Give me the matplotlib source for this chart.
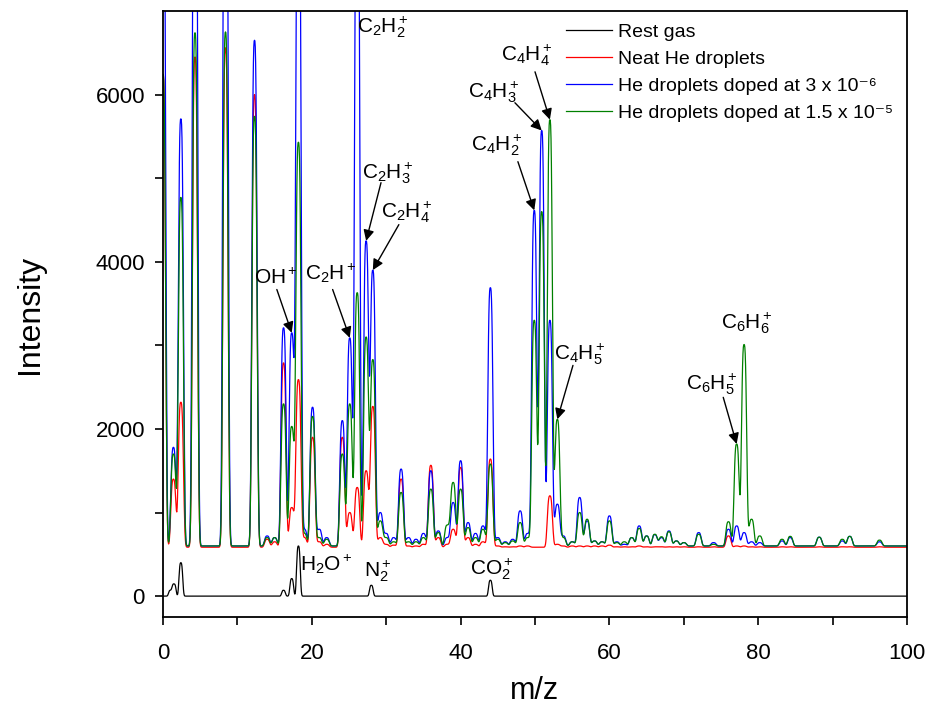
import numpy as np
import matplotlib
matplotlib.use("Agg")
import matplotlib.pyplot as plt

plt.rcParams["font.family"] = ["Liberation Sans", "DejaVu Sans"]
plt.rcParams["mathtext.fontset"] = "custom"
plt.rcParams["mathtext.rm"] = "Liberation Sans"
plt.rcParams["mathtext.it"] = "Liberation Sans"

# peak positions (m/z) and peak tops
peak_mz = [0.0, 1.4, 2.4, 4.3, 8.4, 12.3, 14.0, 15.0, 16.2, 17.3, 18.2, 19.0,
           20.1, 21.0, 22.0, 24.1, 25.1, 26.1, 27.3, 28.2, 29.2, 30.0, 31.0, 32.0,
           33.0, 34.0, 35.0, 36.0, 37.0, 38.2, 39.0, 40.0, 41.0, 42.0, 43.0, 44.0,
           45.0, 46.0, 47.0, 48.0, 49.0, 49.9, 50.9, 52.0, 53.0, 53.8, 55.0, 56.0,
           57.0, 58.0, 59.0, 60.0, 61.0, 62.0, 63.0, 64.0, 65.0, 66.1, 67.0, 68.0,
           69.0, 70.0, 72.0, 74.0, 76.0, 77.1, 78.1, 79.1, 80.2, 83.2, 84.3, 88.2,
           91.3, 92.3, 96.3]
neat_top = [6240, 1400, 2320, 6450, 6560, 6000, 680, 650, 2790, 1060, 2590, 700,
            1900, 650, 620, 1900, 1000, 1300, 1500, 2270, 700, 620, 610, 1400,
            600, 600, 620, 1565, 700, 620, 800, 1540, 700, 620, 650, 1640,
            600, 590, 590, 600, 600, 585, 585, 1200, 620, 600, 600, 600,
            600, 600, 600, 610, 590, 590, 590, 600, 590, 590, 590, 590,
            590, 590, 590, 590, 720, 600, 600, 590, 590, 590, 590, 590,
            590, 590, 590]
dop1_top = [9500, 1780, 5710, 11000, 11000, 6650, 720, 700, 3210, 3150, 9500, 800,
            2260, 800, 700, 2100, 3090, 9500, 4250, 3900, 1000, 750, 700, 1520,
            700, 680, 750, 1500, 780, 700, 1120, 1620, 880, 750, 840, 3690,
            700, 650, 680, 1020, 750, 4615, 5570, 3300, 1100, 720, 650, 1180,
            900, 660, 650, 960, 650, 620, 700, 840, 720, 735, 700, 780,
            660, 640, 760, 640, 800, 840, 760, 650, 640, 660, 700, 705,
            660, 715, 650]
dop2_top = [6240, 1700, 4770, 6740, 6750, 5740, 700, 700, 2300, 2030, 5430, 750,
            2150, 700, 680, 1700, 2300, 3630, 3100, 2830, 900, 700, 650, 1240,
            650, 650, 700, 1280, 760, 850, 1360, 1280, 820, 700, 800, 1580,
            680, 640, 660, 880, 700, 3300, 4600, 5700, 2115, 700, 650, 1000,
            920, 660, 650, 900, 640, 650, 700, 810, 720, 740, 710, 770,
            660, 640, 740, 620, 890, 1820, 3010, 920, 720, 680, 715, 705,
            680, 715, 670]

rest_mz = [1.0, 1.5, 2.4, 16.2, 17.3, 18.2, 28.0, 44.0]
rest_top = [70, 145, 400, 70, 210, 600, 130, 190]

series_names = ["Rest gas", "Neat He droplets",
                "He droplets doped at 3 x 10\u207b\u2076",
                "He droplets doped at 1.5 x 10\u207b\u2075"]

neat_base = 585
doped_base = 600

mz = np.arange(0, 100.01, 0.05)


def spectrum(centres, tops, base, w=0.42):
    y = np.full_like(mz, base, dtype=float)
    for c, t in zip(centres, tops):
        h = max(t - base, 0)
        y += h * np.exp(-(np.abs(mz - c) / w) ** 3)
    return y


rest = spectrum(rest_mz, rest_top, 0, w=0.3)
neat = spectrum(peak_mz, neat_top, neat_base)
dop1 = spectrum(peak_mz, dop1_top, doped_base)
dop2 = spectrum(peak_mz, dop2_top, doped_base)

fig = plt.figure(figsize=(9.32, 7.08), dpi=100)
ax = fig.add_axes([0.1749, 0.1285, 0.7983, 0.856])

lw = 0.9
colors = ["black", "#ff0000", "#0000ff", "#008000"]
for y, c, name in zip([rest, neat, dop1, dop2], colors, series_names):
    ax.plot(mz, y, color=c, lw=lw, label=name)

ax.set_xlim(0, 100)
ax.set_ylim(-250, 7000)
ax.set_xticks(np.arange(0, 101, 20))
ax.set_xticks(np.arange(10, 100, 20), minor=True)
ax.set_yticks([0, 2000, 4000, 6000])
ax.set_yticks([1000, 3000, 5000], minor=True)
ax.tick_params(which="both", direction="out", length=6, width=1.2, labelsize=16)
ax.tick_params(axis="x", pad=13)
ax.tick_params(axis="y", pad=7)
for s in ax.spines.values():
    s.set_linewidth(1.3)

ax.set_xlabel("m/z", fontsize=22, labelpad=8)
ax.set_ylabel("Intensity", fontsize=23, labelpad=36)

leg = ax.legend(loc="upper left", bbox_to_anchor=(0.5417, 0.98), frameon=False,
                fontsize=14, borderpad=0, borderaxespad=0, handlelength=2.35,
                handletextpad=0.3, labelspacing=0.48)

# labels: (text, text position, arrow tail, arrow tip)
fs = 15
labels = [
    (r"C$\mathregular{_2}$H$\mathregular{_2^+}$", (29.6, 6800), None, None),
    (r"C$\mathregular{_2}$H$\mathregular{_3^+}$", (30.2, 5060), (29.3, 4946), (27.3, 4250)),
    (r"C$\mathregular{_2}$H$\mathregular{_4^+}$", (32.8, 4590), (31.7, 4444), (28.2, 3900)),
    (r"OH$\mathregular{^+}$", (15.2, 3810), (15.3, 3668), (17.3, 3150)),
    (r"C$\mathregular{_2}$H$\mathregular{^+}$", (22.6, 3860), (22.8, 3668), (25.1, 3090)),
    (r"C$\mathregular{_4}$H$\mathregular{_4^+}$", (48.9, 6475), (50.0, 6272), (52.0, 5700)),
    (r"C$\mathregular{_4}$H$\mathregular{_3^+}$", (44.4, 6033), (47.3, 5902), (50.9, 5570)),
    (r"C$\mathregular{_4}$H$\mathregular{_2^+}$", (44.8, 5400), (47.7, 5197), (49.9, 4615)),
    (r"C$\mathregular{_4}$H$\mathregular{_5^+}$", (56.0, 2900), (55.1, 2760), (53.0, 2115)),
    (r"C$\mathregular{_6}$H$\mathregular{_5^+}$", (73.8, 2530), (75.3, 2378), (77.1, 1820)),
    (r"C$\mathregular{_6}$H$\mathregular{_6^+}$", (78.5, 3260), None, None),
    (r"H$\mathregular{_2}$O$\mathregular{^+}$", (21.9, 380), None, None),
    (r"N$\mathregular{_2^+}$", (28.9, 300), None, None),
    (r"CO$\mathregular{_2^+}$", (44.2, 320), None, None),
]
for txt, pos, tail, tip in labels:
    ax.text(pos[0], pos[1], txt, fontsize=fs, ha="center", va="center")
    if tail is not None:
        ax.annotate("", xy=tip, xytext=tail,
                    arrowprops=dict(arrowstyle="-|>", color="black", lw=1,
                                    mutation_scale=16, shrinkA=0, shrinkB=0))

fig.savefig("out.png", dpi=100)
